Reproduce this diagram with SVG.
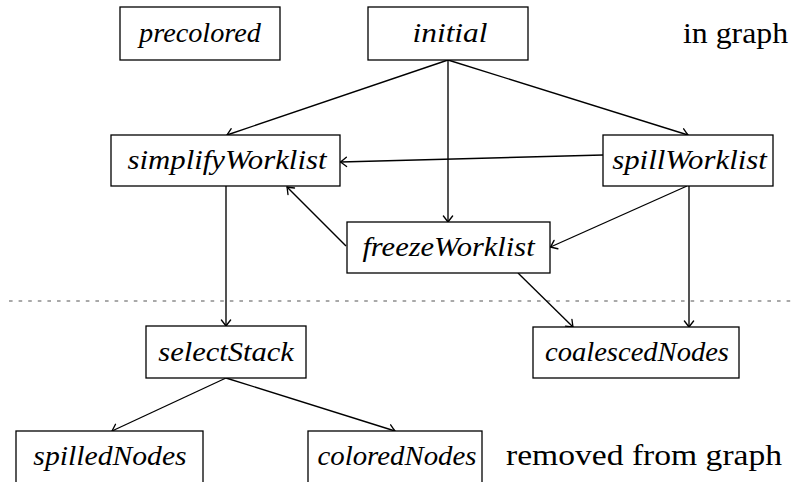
<svg xmlns="http://www.w3.org/2000/svg" width="792" height="482" viewBox="0 0 792 482">
  <defs>
    <marker id="to" markerUnits="userSpaceOnUse" markerWidth="14" markerHeight="14" viewBox="-8 -7 10 14" refX="0" refY="0" orient="auto" overflow="visible">
      <path d="M-6,-4.6 Q-1.8,-1.3 0,0 Q-1.8,1.3 -6,4.6" fill="none" stroke="#000000" stroke-width="1.35" stroke-linecap="round"/>
    </marker>
  </defs>

  <!-- boundary between the in-graph sets and the removed sets -->
  <line x1="9" y1="301" x2="792" y2="301" fill="none" stroke="#555555" stroke-width="1.2" stroke-dasharray="3.6 6"/>

  <g id="connectors" fill="none" stroke="#000000" stroke-width="1.35" marker-end="url(#to)">
    <line x1="448" y1="60" x2="227" y2="135"/>
    <line x1="448" y1="60" x2="688" y2="135"/>
    <line x1="448" y1="60" x2="448" y2="222"/>
    <line x1="603" y1="155" x2="340.5" y2="162"/>
    <line x1="346" y1="246" x2="287" y2="187"/>
    <line x1="687" y1="186" x2="550.5" y2="247"/>
    <line x1="689" y1="186" x2="689" y2="327"/>
    <line x1="226" y1="186" x2="226" y2="326"/>
    <line x1="518" y1="273" x2="573" y2="327"/>
    <line x1="226" y1="378" x2="112" y2="431"/>
    <line x1="226" y1="378" x2="395" y2="431"/>
  </g>

  <!-- node labels are widened with a horizontal scale so the glyphs keep their font -->
  <g id="nodes" fill="#ffffff" stroke="#000000" stroke-width="1.3">
    <g id="precolored">
      <rect x="120" y="7" width="160" height="53"/>
      <text fill="#000000" stroke="none" font-family="Liberation Serif" font-style="italic" font-size="28" text-anchor="middle" transform="translate(200 42) scale(1.01 1)">precolored</text>
    </g>
    <g id="initial">
      <rect x="368" y="7" width="160" height="53"/>
      <text fill="#000000" stroke="none" font-family="Liberation Serif" font-style="italic" font-size="28" text-anchor="middle" transform="translate(450 42) scale(1.12 1)">initial</text>
    </g>
    <g id="simplifyWorklist">
      <rect x="111" y="135" width="229" height="51"/>
      <text fill="#000000" stroke="none" font-family="Liberation Serif" font-style="italic" font-size="28" text-anchor="middle" transform="translate(227 169) scale(1.1 1)">simplifyWorklist</text>
    </g>
    <g id="spillWorklist">
      <rect x="603" y="135" width="170" height="51"/>
      <text fill="#000000" stroke="none" font-family="Liberation Serif" font-style="italic" font-size="28" text-anchor="middle" transform="translate(689.5 169) scale(1.1 1)">spillWorklist</text>
    </g>
    <g id="freezeWorklist">
      <rect x="347" y="222" width="203" height="51"/>
      <text fill="#000000" stroke="none" font-family="Liberation Serif" font-style="italic" font-size="28" text-anchor="middle" transform="translate(448.5 256) scale(1.09 1)">freezeWorklist</text>
    </g>
    <g id="selectStack">
      <rect x="146" y="326" width="160" height="52"/>
      <text fill="#000000" stroke="none" font-family="Liberation Serif" font-style="italic" font-size="28" text-anchor="middle" transform="translate(226 361) scale(1.09 1)">selectStack</text>
    </g>
    <g id="coalescedNodes">
      <rect x="533" y="327" width="206" height="51"/>
      <text fill="#000000" stroke="none" font-family="Liberation Serif" font-style="italic" font-size="28" text-anchor="middle" transform="translate(637 361) scale(1.02 1)">coalescedNodes</text>
    </g>
    <g id="spilledNodes">
      <rect x="16" y="431" width="187" height="60"/>
      <text fill="#000000" stroke="none" font-family="Liberation Serif" font-style="italic" font-size="28" text-anchor="middle" transform="translate(110 465) scale(1.06 1)">spilledNodes</text>
    </g>
    <g id="coloredNodes">
      <rect x="308" y="431" width="174" height="60"/>
      <text fill="#000000" stroke="none" font-family="Liberation Serif" font-style="italic" font-size="28" text-anchor="middle" transform="translate(397 465) scale(1.03 1)">coloredNodes</text>
    </g>
  </g>

  <text fill="#000000" font-family="Liberation Serif" font-size="30" transform="translate(683 43) scale(1.06 1)">in graph</text>
  <text fill="#000000" font-family="Liberation Serif" font-size="30" transform="translate(506 465) scale(1.12 1)">removed from graph</text>
</svg>
